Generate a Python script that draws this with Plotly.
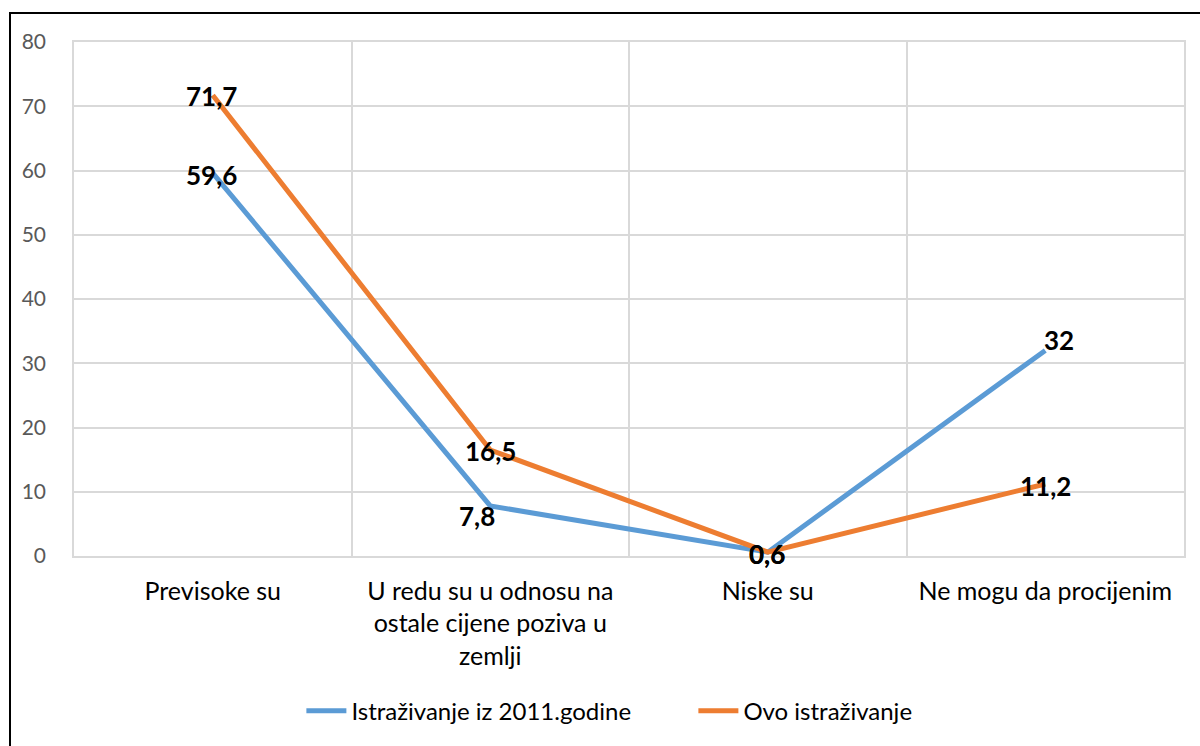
import plotly.graph_objects as go

categories = ["Previsoke su",
              "U redu su u odnosu na<br>ostale cijene poziva u<br>zemlji",
              "Niske su",
              "Ne mogu da procijenim"]
series_names = ["Istraživanje iz 2011.godine", "Ovo istraživanje"]
values_2011 = [59.6, 7.8, 0.6, 32]
values_now = [71.7, 16.5, 0.6, 11.2]
y_ticks = [0, 10, 20, 30, 40, 50, 60, 70, 80]

colors = ["#5B9BD5", "#ED7D31"]
# label pixel offsets (style, not data)
offsets_2011 = [(-1, -2), (-13, -10), (-1, -2), (14, 10)]
offsets_now = [(-1, -1), (0, -1), (-1, -2), (0, -2)]

FONT = "Lato, Calibri, Carlito, sans-serif"
xs = list(range(len(categories)))

fig = go.Figure()
for name, vals, col in [(series_names[0], values_2011, colors[0]),
                        (series_names[1], values_now, colors[1])]:
    fig.add_trace(go.Scatter(x=xs, y=vals, mode="lines", name=name,
                             line=dict(color=col, width=5),
                             hoverinfo="skip"))

annotations = []
for vals, offs in [(values_2011, offsets_2011), (values_now, offsets_now)]:
    for x, v, (dx, dy) in zip(xs, vals, offs):
        txt = (f"{v:g}").replace(".", ",")
        annotations.append(dict(x=x, y=v, xref="x", yref="y", text=f"<b>{txt}</b>",
                                showarrow=False, xshift=dx, yshift=dy,
                                font=dict(family=FONT, size=26, color="#000000")))

fig.update_layout(
    width=1200, height=746,
    margin=dict(l=74, r=16, t=42, b=188),
    paper_bgcolor="white", plot_bgcolor="white",
    font=dict(family=FONT),
    showlegend=True,
    legend=dict(orientation="h", x=0.558, xanchor="center", y=-0.302, yanchor="middle",
                font=dict(family=FONT, size=24, color="#000000"),
                itemwidth=40, tracegroupgap=0, entrywidth=337),
    xaxis=dict(range=[-0.5, 3.5], tickvals=xs, ticktext=categories,
               showgrid=False, zeroline=False, automargin=False,
               showline=True, mirror=True, linecolor="#D9D9D9", linewidth=1.5,
               tickfont=dict(family=FONT, size=25, color="#000000"),
               ticks="", ticklabelstandoff=12,
               minor=dict(tickvals=[-0.5, 0.5, 1.5, 2.5, 3.5], showgrid=True,
                          gridcolor="#D9D9D9", gridwidth=1.5, ticks="")),
    yaxis=dict(range=[0, 80], tickvals=y_ticks, showgrid=True,
               gridcolor="#D9D9D9", gridwidth=1.5, zeroline=False, automargin=False,
               showline=True, mirror=True, linecolor="#D9D9D9", linewidth=1.5,
               tickfont=dict(family=FONT, size=21, color="#595959"),
               ticks="", ticklabelstandoff=22),
    annotations=annotations,
    shapes=[dict(type="rect", xref="paper", yref="paper",
                 x0=(10 - 74) / 1110, x1=(1210 - 74) / 1110,
                 y0=-(760 - 558) / 516, y1=1 + (42 - 13) / 516,
                 line=dict(color="#000000", width=2), fillcolor="rgba(0,0,0,0)",
                 layer="below")],
)

fig.write_html("out.html", config={"displayModeBar": False},
               post_script="document.body.style.margin='0';document.body.style.overflow='hidden';")
